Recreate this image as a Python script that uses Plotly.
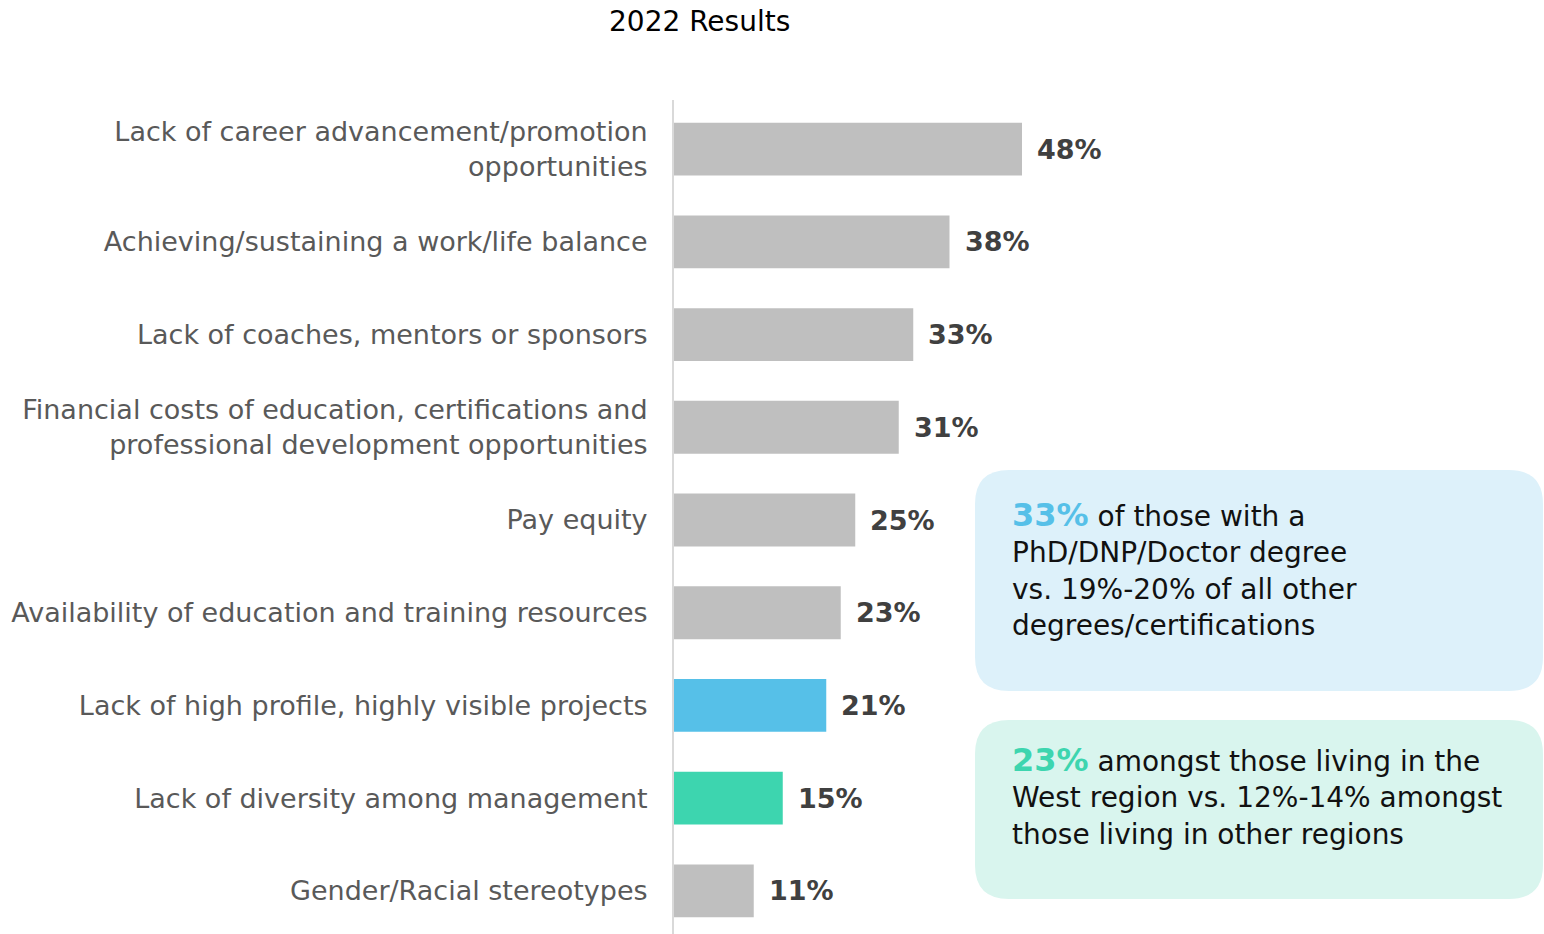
import plotly.graph_objects as go

categories = [
    "Lack of career advancement/promotion<br>opportunities",
    "Achieving/sustaining a work/life balance",
    "Lack of coaches, mentors or sponsors",
    "Financial costs of education, certifications and<br>professional development opportunities",
    "Pay equity",
    "Availability of education and training resources",
    "Lack of high profile, highly visible projects",
    "Lack of diversity among management",
    "Gender/Racial stereotypes",
]
values = [48, 38, 33, 31, 25, 23, 21, 15, 11]
bar_colors = ["#BFBFBF", "#BFBFBF", "#BFBFBF", "#BFBFBF", "#BFBFBF", "#BFBFBF",
              "#56C0E8", "#3DD5AF", "#BFBFBF"]
value_labels = [f"{v}%" for v in values]

title_text = "2022 Results"
callout1_pct = "33%"
callout1_text = " of those with a<br>PhD/DNP/Doctor degree<br>vs. 19%-20% of all other<br>degrees/certifications"
callout2_pct = "23%"
callout2_text = " amongst those living in the<br>West region vs. 12%-14% amongst<br>those living in other regions"

FONT = "DejaVu Sans"
W, H = 1544, 934
ML, MR, MT, MB = 674, 0, 100, 0
PW, PH = W - ML - MR, H - MT - MB


def px(x):  # page pixel -> paper
    return (x - ML) / PW


def py(y):
    return (H - MB - y) / PH


def rounded_rect(x0, y0, x1, y1, r):
    rx, ry = r / PW, r / PH
    X0, X1 = px(x0), px(x1)
    Yt, Yb = py(y0), py(y1)
    return (f"M {X0+rx},{Yt} L {X1-rx},{Yt} Q {X1},{Yt} {X1},{Yt-ry} "
            f"L {X1},{Yb+ry} Q {X1},{Yb} {X1-rx},{Yb} "
            f"L {X0+rx},{Yb} Q {X0},{Yb} {X0},{Yb+ry} "
            f"L {X0},{Yt-ry} Q {X0},{Yt} {X0+rx},{Yt} Z")


fig = go.Figure()
fig.add_trace(go.Bar(
    x=values, y=categories, orientation="h",
    marker=dict(color=bar_colors, line=dict(width=0)),
    width=0.57, hoverinfo="skip",
))

annotations = []
for c, v, lab in zip(categories, values, value_labels):
    annotations.append(dict(
        x=v, y=c, xref="x", yref="y", text=f"<b>{lab}</b>", showarrow=False,
        xanchor="left", yanchor="middle", xshift=13,
        font=dict(family=FONT, size=27, color="#404040"),
    ))

annotations.append(dict(
    x=px(699), y=py(22), xref="paper", yref="paper", text=title_text,
    showarrow=False, xanchor="center", yanchor="middle",
    font=dict(family=FONT, size=28, color="#000000"),
))

annotations.append(dict(
    x=px(1010), y=py(494), xref="paper", yref="paper",
    text=f"<span style='color:#56C0E8;font-size:32px'><b>{callout1_pct}</b></span>{callout1_text}",
    showarrow=False, xanchor="left", yanchor="top", align="left",
    font=dict(family=FONT, size=28, color="#111111"),
))
annotations.append(dict(
    x=px(1010), y=py(739), xref="paper", yref="paper",
    text=f"<span style='color:#3DD5AF;font-size:32px'><b>{callout2_pct}</b></span>{callout2_text}",
    showarrow=False, xanchor="left", yanchor="top", align="left",
    font=dict(family=FONT, size=28, color="#111111"),
))

shapes = [
    dict(type="path", xref="paper", yref="paper", layer="below",
         path=rounded_rect(975, 470, 1543, 691, 34),
         fillcolor="#DDF1FA", line=dict(width=0)),
    dict(type="path", xref="paper", yref="paper", layer="below",
         path=rounded_rect(975, 720, 1543, 899, 34),
         fillcolor="#D9F5EE", line=dict(width=0)),
]

px_per_unit = 7.25
fig.update_layout(
    width=W, height=H,
    margin=dict(l=ML, r=MR, t=MT, b=MB, pad=0),
    paper_bgcolor="white", plot_bgcolor="white",
    showlegend=False,
    annotations=annotations,
    shapes=shapes,
    xaxis=dict(range=[0, PW / px_per_unit], visible=False, fixedrange=True),
    yaxis=dict(
        categoryorder="array", categoryarray=categories,
        range=[8.465, -0.53],
        showline=True, linecolor="#D9D9D9", linewidth=2,
        showgrid=False, zeroline=False, ticks="",
        ticklabelstandoff=19,
        tickfont=dict(family=FONT, size=27, color="#595959"),
        fixedrange=True,
    ),
)

fig.write_html(
    "out.html",
    config={"displayModeBar": False},
    post_script="document.body.style.margin='0';document.body.style.overflow='hidden';",
)
